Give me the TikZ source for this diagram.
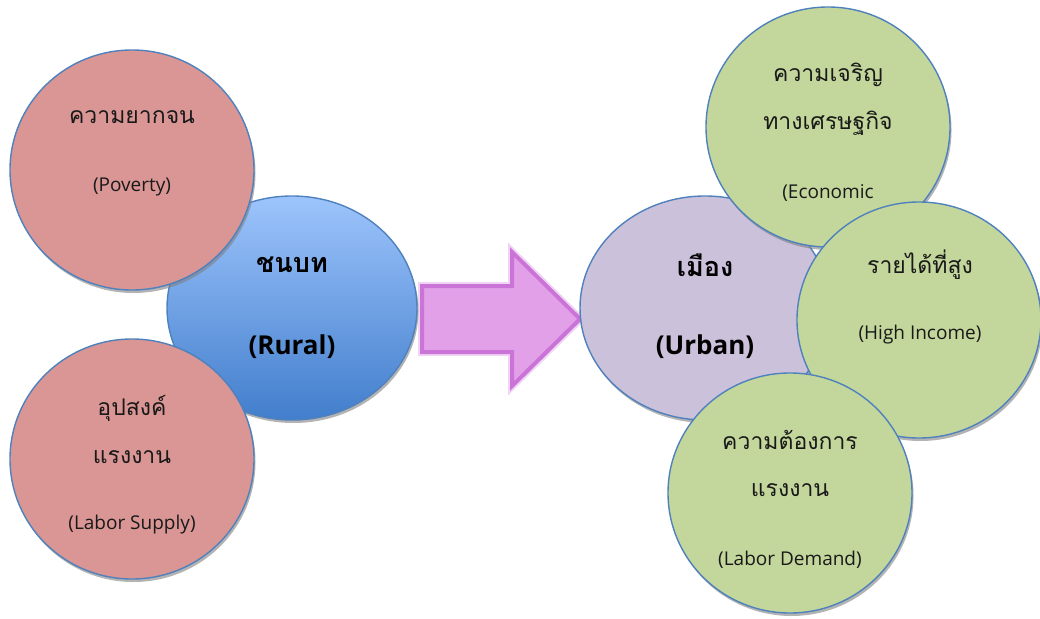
\documentclass[tikz,border=0pt]{standalone}
\usepackage{fontspec}
\setmainfont{Open Sans}
\newfontfamily\thai[Script=Thai]{Loma}
\usetikzlibrary{shapes.geometric,shadows}
\definecolor{edge}{RGB}{79,129,189}
\definecolor{pinkfill}{RGB}{217,150,148}
\definecolor{greenfill}{RGB}{195,214,155}
\definecolor{lavfill}{RGB}{204,193,218}
\definecolor{ruraltop}{RGB}{157,196,252}
\definecolor{ruralbot}{RGB}{66,126,204}
\definecolor{arrowfill}{RGB}{226,160,232}
\definecolor{arrowedge}{RGB}{202,116,216}
\begin{document}
\begin{tikzpicture}[x=1pt,y=-1pt,
  bubble/.style={ellipse, draw=edge, line width=1.4pt, inner sep=0pt,
    drop shadow={shadow xshift=1.5pt, shadow yshift=-3pt, fill=black!50, opacity=0.6}},
  pinkb/.style={bubble, fill=pinkfill, minimum width=244pt, minimum height=240pt},
  greenb/.style={bubble, fill=greenfill, minimum width=244pt, minimum height=240pt},
  thaitxt/.style={font=\thai\fontsize{23}{27}\selectfont, text=black!90, inner sep=0pt},
  engtxt/.style={font=\fontsize{19}{22}\selectfont, text=black!90, inner sep=0pt},
  boldthai/.style={font=\thai\bfseries\fontsize{27}{30}\selectfont, inner sep=0pt},
  boldeng/.style={font=\bfseries\fontsize{26}{30}\selectfont, inner sep=0pt},
]
\useasboundingbox (0,0) rectangle (1040,618);
% left group
\node[bubble, top color=ruraltop, bottom color=ruralbot, minimum width=250pt, minimum height=224pt] (rural) at (292,308) {};
\node[boldthai] (ruralT) at (292,265) {ชนบท};
\node[boldeng] (ruralE) at (292,347) {(Rural)};
\node[pinkb] (pov) at (132,170) {};
\node[thaitxt] (povT) at (132,117) {ความยากจน};
\node[engtxt] (povE) at (132,187) {(Poverty)};
\node[pinkb] (lsup) at (132,459) {};
\node[thaitxt] (lsupT1) at (132,408) {อุปสงค์};
\node[thaitxt] (lsupT2) at (132,457) {แรงงาน};
\node[engtxt] (lsupE) at (132,525) {(Labor Supply)};
% arrow
\coordinate (a1) at (422,286);
\coordinate (a2) at (512,286);
\coordinate (a3) at (512,252);
\coordinate (a4) at (580,319);
\coordinate (a5) at (512,386);
\coordinate (a6) at (512,352);
\coordinate (a7) at (422,352);
\draw[line width=8pt, arrowedge, opacity=0.3, line join=miter] (a1) -- (a2) -- (a3) -- (a4) -- (a5) -- (a6) -- (a7) -- cycle;
\draw[line width=4pt, draw=arrowedge, fill=arrowfill, line join=miter] (a1) -- (a2) -- (a3) -- (a4) -- (a5) -- (a6) -- (a7) -- cycle;
% right group
\node[bubble, fill=lavfill, minimum width=250pt, minimum height=224pt] (urban) at (705,308) {};
\node[boldthai] (urbanT) at (705,265) {เมือง};
\node[boldeng] (urbanE) at (705,347) {(Urban)};
\node[greenb] (econ) at (828,127) {};
\node[thaitxt] (econT1) at (828,75) {ความเจริญ};
\node[thaitxt] (econT2) at (828,123) {ทางเศรษฐกิจ};
\node[engtxt] (econE) at (828,193) {(Economic};
\node[greenb, minimum height=236pt] (high) at (919,320) {};
\node[thaitxt] (highT) at (920,265) {รายได้ที่สูง};
\node[engtxt] (highE) at (920,335) {(High Income)};
\node[greenb] (ldem) at (790,493) {};
\node[thaitxt] (ldemT1) at (790,440) {ความต้องการ};
\node[thaitxt] (ldemT2) at (790,490) {แรงงาน};
\node[engtxt] (ldemE) at (790,560) {(Labor Demand)};
\end{tikzpicture}
\end{document}
